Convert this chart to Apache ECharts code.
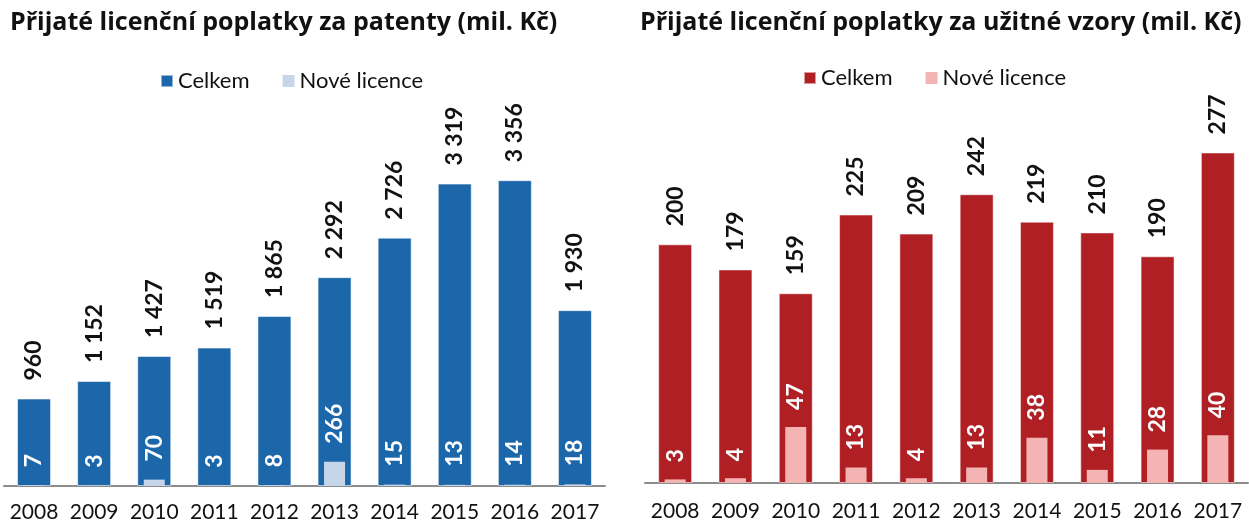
<!DOCTYPE html>
<html>
<head>
<meta charset="UTF-8"/>
<script src="https://cdn.jsdelivr.net/npm/echarts@6/dist/echarts.min.js"></script>
<style type="text/css">
	body { margin:0; background:#fff; }
	.wkChart {
		position:absolute;
		top:0;
		width:625px;
		height:524px;
	}
	#charts_patent { left:0; }
	#charts_vzory { left:625px; width:624px; }
</style>
</head>
<body>
<div id="charts_patent" class="wkChart"></div>
<div id="charts_vzory" class="wkChart"></div>

<script type="text/javascript">
// data
var years = ['2008','2009','2010','2011','2012','2013','2014','2015','2016','2017'];
var patentCelkem = [960, 1152, 1427, 1519, 1865, 2292, 2726, 3319, 3356, 1930];
var patentNove = [7, 3, 70, 3, 8, 266, 15, 13, 14, 18];
var vzoryCelkem = [200, 179, 159, 225, 209, 242, 219, 210, 190, 277];
var vzoryNove = [3, 4, 47, 13, 4, 13, 38, 11, 28, 40];

var FONT = 'Lato';

function fmt(p){
	// mezera jako oddelovac tisicu
	return String(p.value).replace(/\B(?=(\d{3})+(?!\d))/g, ' ');
}

function makeOption(cfg){
	var lbl = {
		show:true,
		position:'top',
		rotate:90,
		align:'left',
		verticalAlign:'middle',
		fontFamily:FONT,
		fontWeight:'bold',
		fontSize:23,
		formatter:fmt
	};
	return {
		animation:false,
		textStyle:{fontFamily:FONT},
		title:{
			text:cfg.title,
			left:cfg.titleLeft,
			top:5,
			textStyle:{fontFamily:'Open Sans', fontWeight:'bold', fontSize:25, color:'#111'}
		},
		legend:{
			left:cfg.legendLeft,
			top:cfg.legendTop,
			itemWidth:12,
			itemHeight:12,
			itemGap:33,
			icon:'rect',
			textStyle:{fontFamily:FONT, fontSize:22, color:'#111'},
			data:['Celkem','Nové licence']
		},
		grid:{left:cfg.gridLeft, width:cfg.gridWidth, top:cfg.gridTop, bottom:cfg.gridBottom},
		xAxis:[
			{
				type:'category',
				data:years,
				axisLine:{lineStyle:{color:'#8c8c8c', width:2}},
				axisTick:{show:false},
				axisLabel:{interval:0, fontFamily:FONT, fontSize:21, color:'#111', margin:cfg.labelMargin}
			},
			{
				type:'category',
				data:years,
				show:false
			}
		],
		yAxis:{type:'value', min:0, max:cfg.max, show:false, splitLine:{show:false}},
		series:[
			{
				name:'Celkem',
				type:'bar',
				xAxisIndex:0,
				barWidth:34,
				data:cfg.celkem,
				itemStyle:{color:cfg.dark, borderColor:'rgba(255,255,255,0.55)', borderWidth:1},
				label:Object.assign({}, lbl, {distance:18, color:'#111'})
			},
			{
				name:'Nové licence',
				type:'bar',
				xAxisIndex:1,
				barWidth:21,
				data:cfg.nove,
				itemStyle:{color:cfg.light},
				label:Object.assign({}, lbl, {distance:cfg.innerDist, color:'#fff'}),
				z:3
			}
		]
	};
}

var chart1 = echarts.init(document.getElementById('charts_patent'));
chart1.setOption(makeOption({
	title:'Přijaté licenční poplatky za patenty (mil. Kč)',
	titleLeft:5,
	legendLeft:155,
	legendTop:65,
	gridLeft:4,
	gridWidth:601,
	gridTop:158,
	gridBottom:38,
	labelMargin:16,
	max:3600,
	celkem:patentCelkem,
	nove:patentNove,
	dark:'#1c66aa',
	light:'#c6d5e8',
	innerDist:18
}));

var chart2 = echarts.init(document.getElementById('charts_vzory'));
chart2.setOption(makeOption({
	title:'Přijaté licenční poplatky za užitné vzory (mil. Kč)',
	titleLeft:10,
	legendLeft:173,
	legendTop:62,
	gridLeft:20,
	gridWidth:603,
	gridTop:125,
	gridBottom:41,
	labelMargin:18,
	max:300,
	celkem:vzoryCelkem,
	nove:vzoryNove,
	dark:'#b01f24',
	light:'#f4b4b4',
	innerDist:17
}));
</script>
</body>
</html>
